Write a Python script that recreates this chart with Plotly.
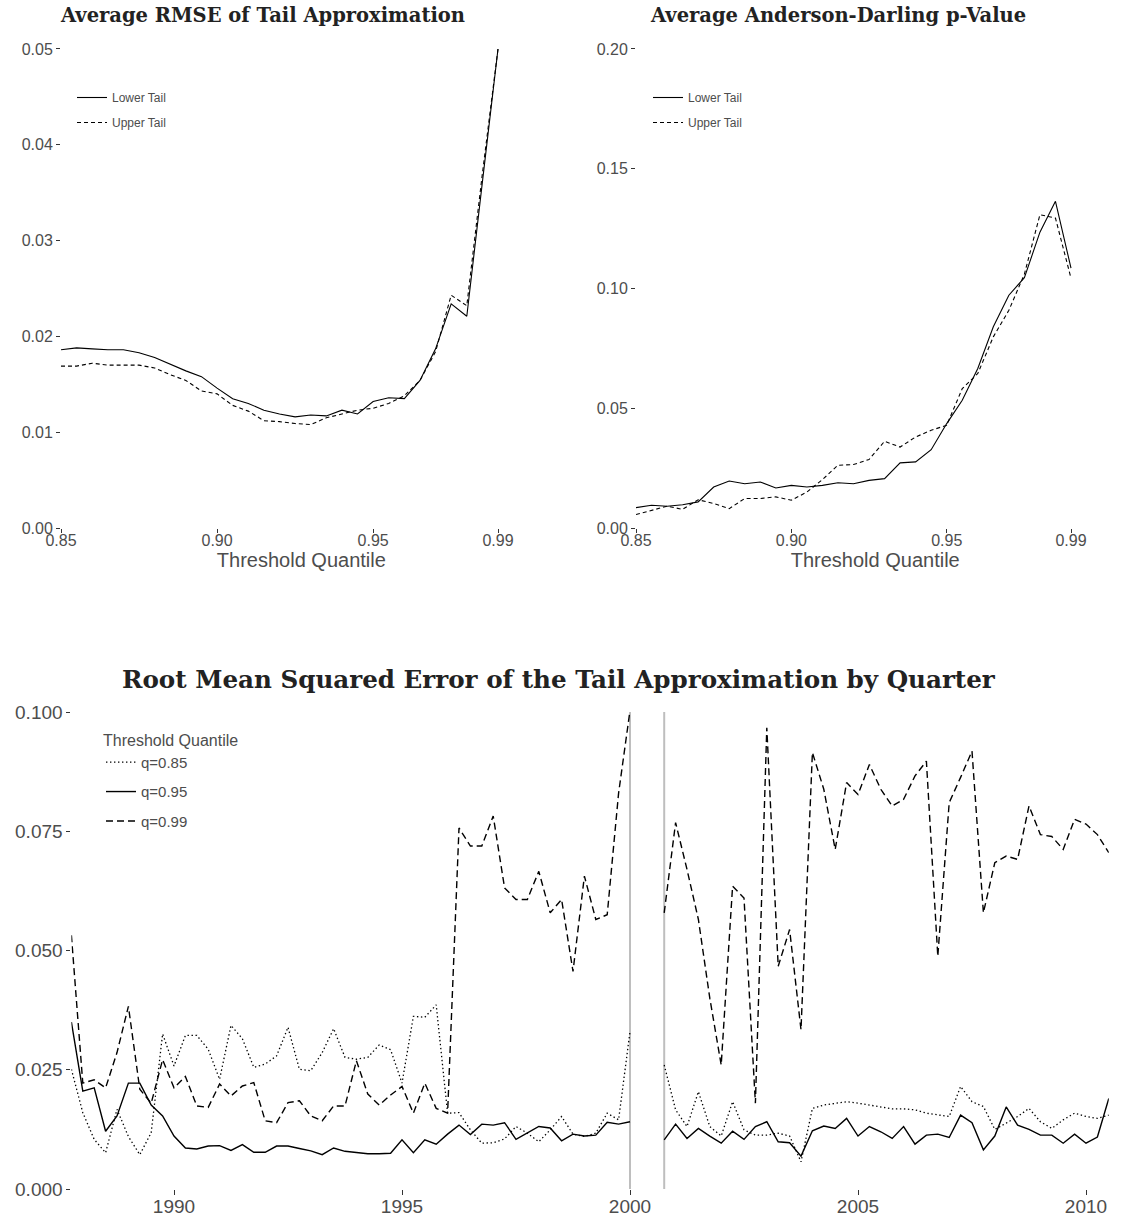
import plotly.graph_objects as go

# ---- Average tail diagnostics by threshold quantile ----
thresholds = [0.850, 0.855, 0.860, 0.865, 0.870, 0.875, 0.880, 0.885, 0.890, 0.895,
              0.900, 0.905, 0.910, 0.915, 0.920, 0.925, 0.930, 0.935, 0.940, 0.945,
              0.950, 0.955, 0.960, 0.965, 0.970, 0.975, 0.980, 0.985, 0.990]

rmse_lower = [0.0186, 0.0188, 0.0187, 0.0186, 0.0186, 0.0183, 0.0178, 0.0171, 0.0164, 0.0158,
              0.0146, 0.0135, 0.0130, 0.0123, 0.0119, 0.0116, 0.0118, 0.0117, 0.0123, 0.0119,
              0.0132, 0.0136, 0.0135, 0.0154, 0.0187, 0.0234, 0.0221, 0.0361, 0.0500]
rmse_upper = [0.0169, 0.0169, 0.0172, 0.0170, 0.0170, 0.0170, 0.0167, 0.0160, 0.0154, 0.0143,
              0.0140, 0.0128, 0.0122, 0.0112, 0.0111, 0.0109, 0.0108, 0.0115, 0.0119, 0.0123,
              0.0125, 0.0130, 0.0138, 0.0154, 0.0184, 0.0243, 0.0232, 0.0370, 0.0500]

ad_lower = [0.0085, 0.0095, 0.0091, 0.0097, 0.0109, 0.0171, 0.0196, 0.0185, 0.0192, 0.0167,
            0.0178, 0.0171, 0.0178, 0.0189, 0.0185, 0.0199, 0.0206, 0.0272, 0.0276, 0.0327,
            0.0436, 0.0533, 0.0666, 0.0840, 0.0972, 0.1045, 0.1235, 0.1364, 0.1085]
ad_upper = [0.0056, 0.0074, 0.0091, 0.0078, 0.0118, 0.0102, 0.0081, 0.0123, 0.0123, 0.0130,
            0.0116, 0.0150, 0.0202, 0.0262, 0.0265, 0.0286, 0.0362, 0.0338, 0.0380, 0.0408,
            0.0429, 0.0582, 0.0645, 0.0798, 0.0909, 0.1060, 0.1308, 0.1294, 0.1043]

threshold_ticks = [0.85, 0.90, 0.95, 0.99]

# ---- Quarterly RMSE (decimal year of each quarter; 2000.25-2000.5 missing) ----
quarters = [1987.75,
            1988.00, 1988.25, 1988.50, 1988.75, 1989.00, 1989.25, 1989.50, 1989.75,
            1990.00, 1990.25, 1990.50, 1990.75, 1991.00, 1991.25, 1991.50, 1991.75,
            1992.00, 1992.25, 1992.50, 1992.75, 1993.00, 1993.25, 1993.50, 1993.75,
            1994.00, 1994.25, 1994.50, 1994.75, 1995.00, 1995.25, 1995.50, 1995.75,
            1996.00, 1996.25, 1996.50, 1996.75, 1997.00, 1997.25, 1997.50, 1997.75,
            1998.00, 1998.25, 1998.50, 1998.75, 1999.00, 1999.25, 1999.50, 1999.75,
            2000.00, 2000.25, 2000.50, 2000.75,
            2001.00, 2001.25, 2001.50, 2001.75, 2002.00, 2002.25, 2002.50, 2002.75,
            2003.00, 2003.25, 2003.50, 2003.75, 2004.00, 2004.25, 2004.50, 2004.75,
            2005.00, 2005.25, 2005.50, 2005.75, 2006.00, 2006.25, 2006.50, 2006.75,
            2007.00, 2007.25, 2007.50, 2007.75, 2008.00, 2008.25, 2008.50, 2008.75,
            2009.00, 2009.25, 2009.50, 2009.75, 2010.00, 2010.25, 2010.50]

q85 = [0.0251, 0.0160, 0.0104, 0.0076, 0.0167, 0.0110, 0.0072, 0.0118, 0.0325, 0.0258,
       0.0322, 0.0322, 0.0293, 0.0230, 0.0343, 0.0315, 0.0255, 0.0262, 0.0279, 0.0339,
       0.0251, 0.0248, 0.0286, 0.0336, 0.0276, 0.0272, 0.0276, 0.0302, 0.0292, 0.0222,
       0.0362, 0.0360, 0.0386, 0.0159, 0.0160, 0.0124, 0.0096, 0.0097, 0.0105, 0.0131,
       0.0117, 0.0099, 0.0124, 0.0152, 0.0115, 0.0110, 0.0117, 0.0159, 0.0145, 0.0330,
       None, None,
       0.0260, 0.0166, 0.0131, 0.0204, 0.0131, 0.0111, 0.0183, 0.0124, 0.0113, 0.0113,
       0.0117, 0.0111, 0.0057, 0.0169, 0.0176, 0.0180, 0.0183, 0.0180, 0.0176, 0.0172,
       0.0168, 0.0168, 0.0166, 0.0159, 0.0155, 0.0152, 0.0215, 0.0183, 0.0173, 0.0125,
       0.0138, 0.0152, 0.0169, 0.0141, 0.0127, 0.0145, 0.0159, 0.0152, 0.0148, 0.0155]

q95 = [0.0350, 0.0205, 0.0212, 0.0121, 0.0153, 0.0222, 0.0222, 0.0176, 0.0153, 0.0111,
       0.0086, 0.0084, 0.0090, 0.0091, 0.0081, 0.0093, 0.0077, 0.0077, 0.0090, 0.0090,
       0.0085, 0.0080, 0.0072, 0.0086, 0.0079, 0.0077, 0.0074, 0.0074, 0.0075, 0.0103,
       0.0076, 0.0103, 0.0094, 0.0115, 0.0134, 0.0114, 0.0136, 0.0134, 0.0139, 0.0104,
       0.0118, 0.0131, 0.0128, 0.0101, 0.0115, 0.0111, 0.0113, 0.0140, 0.0136, 0.0141,
       None, None,
       0.0103, 0.0136, 0.0106, 0.0127, 0.0111, 0.0096, 0.0121, 0.0104, 0.0131, 0.0141,
       0.0099, 0.0097, 0.0069, 0.0122, 0.0132, 0.0127, 0.0148, 0.0111, 0.0131, 0.0120,
       0.0106, 0.0131, 0.0094, 0.0113, 0.0115, 0.0108, 0.0155, 0.0139, 0.0082, 0.0111,
       0.0172, 0.0134, 0.0125, 0.0113, 0.0113, 0.0096, 0.0115, 0.0096, 0.0109, 0.0190]

q99 = [0.0532, 0.0222, 0.0229, 0.0212, 0.0286, 0.0383, 0.0209, 0.0180, 0.0271, 0.0212,
       0.0236, 0.0174, 0.0171, 0.0220, 0.0195, 0.0216, 0.0223, 0.0143, 0.0139, 0.0181,
       0.0185, 0.0153, 0.0143, 0.0174, 0.0174, 0.0269, 0.0199, 0.0176, 0.0197, 0.0215,
       0.0159, 0.0222, 0.0169, 0.0159, 0.0757, 0.0719, 0.0719, 0.0782, 0.0631, 0.0607,
       0.0607, 0.0666, 0.0579, 0.0607, 0.0456, 0.0656, 0.0565, 0.0575, 0.0830, 0.1003,
       None, None,
       0.0579, 0.0768, 0.0670, 0.0565, 0.0400, 0.0260, 0.0635, 0.0610, 0.0180, 0.0967,
       0.0467, 0.0544, 0.0334, 0.0915, 0.0838, 0.0712, 0.0852, 0.0827, 0.0890, 0.0838,
       0.0803, 0.0817, 0.0866, 0.0897, 0.0488, 0.0810, 0.0863, 0.0918, 0.0579, 0.0684,
       0.0698, 0.0691, 0.0803, 0.0743, 0.0739, 0.0712, 0.0775, 0.0765, 0.0743, 0.0705]

year_ticks = [1990, 1995, 2000, 2005, 2010]
gap_marks = [2000.00, 2000.75]

W, H = 1129, 1218
SANS = "Liberation Sans"
SERIF = "DejaVu Serif"
GREY = "#4d4d4d"


def px(x):
    return x / W


def py(y):
    return (H - y) / H


fig = go.Figure()

top_line = dict(color="black", width=1.1)
top_dash = dict(color="black", width=1.1, dash="4px,3px")

fig.add_trace(go.Scatter(x=thresholds, y=rmse_lower, mode="lines", name="Lower Tail",
                         line=top_line, xaxis="x", yaxis="y", legend="legend",
                         legendgroup="l1"))
fig.add_trace(go.Scatter(x=thresholds, y=rmse_upper, mode="lines", name="Upper Tail",
                         line=top_dash, xaxis="x", yaxis="y", legend="legend",
                         legendgroup="u1"))
fig.add_trace(go.Scatter(x=thresholds, y=ad_lower, mode="lines", name="Lower Tail",
                         line=top_line, xaxis="x2", yaxis="y2", legend="legend2",
                         legendgroup="l2"))
fig.add_trace(go.Scatter(x=thresholds, y=ad_upper, mode="lines", name="Upper Tail",
                         line=top_dash, xaxis="x2", yaxis="y2", legend="legend2",
                         legendgroup="u2"))

fig.add_trace(go.Scatter(x=quarters, y=q85, mode="lines", name="q=0.85",
                         line=dict(color="black", width=1.3, dash="1.4px,2.6px"),
                         xaxis="x3", yaxis="y3", legend="legend3", legendgroup="a"))
fig.add_trace(go.Scatter(x=quarters, y=q95, mode="lines", name="q=0.95",
                         line=dict(color="black", width=1.4),
                         xaxis="x3", yaxis="y3", legend="legend3", legendgroup="b"))
fig.add_trace(go.Scatter(x=quarters, y=q99, mode="lines", name="q=0.99",
                         line=dict(color="black", width=1.4, dash="7px,4px"),
                         xaxis="x3", yaxis="y3", legend="legend3", legendgroup="c"))

for xv in gap_marks:
    fig.add_shape(type="line", xref="x3", yref="y3 domain", x0=xv, x1=xv, y0=0, y1=1,
                  line=dict(color="#bebebe", width=2), layer="below")

axis_common = dict(showgrid=False, zeroline=False, showline=False, ticks="outside",
                   ticklen=4, tickwidth=1, tickcolor="#333333", automargin=False)
top_tickfont = dict(family=SANS, size=16, color=GREY)
bot_tickfont = dict(family=SANS, size=19, color=GREY)
xtitle = dict(text="Threshold Quantile", font=dict(family=SANS, size=20, color=GREY),
              standoff=0)

top_dom_y = [py(528), py(48)]
# the threshold panels run a little past the last tick, as in the original layout
top_x_range = [0.85, 1.004]

fig.update_layout(
    template="none",
    width=W, height=H, margin=dict(l=0, r=0, t=0, b=0, pad=0, autoexpand=False),
    paper_bgcolor="white", plot_bgcolor="white",
    xaxis=dict(domain=[px(61), px(541.7)], range=top_x_range, tickvals=threshold_ticks,
               tickformat=".2f", tickfont=top_tickfont, title=xtitle, anchor="y",
               ticklabelstandoff=-6, **axis_common),
    yaxis=dict(domain=top_dom_y, range=[0, 0.0501], tickvals=[0, 0.01, 0.02, 0.03, 0.04, 0.05],
               tickformat=".2f", tickfont=top_tickfont, anchor="x", **axis_common),
    xaxis2=dict(domain=[px(636), px(1114.5)], range=top_x_range, tickvals=threshold_ticks,
                tickformat=".2f", tickfont=top_tickfont, title=xtitle, anchor="y2",
                ticklabelstandoff=-6, **axis_common),
    yaxis2=dict(domain=top_dom_y, range=[0, 0.2004], tickvals=[0, 0.05, 0.10, 0.15, 0.20],
                tickformat=".2f", tickfont=top_tickfont, anchor="x2", **axis_common),
    xaxis3=dict(domain=[px(71.4), px(1108.8)], range=[1987.75, 2010.5], tickvals=year_ticks,
                tickformat="d", tickfont=bot_tickfont, anchor="y3", ticklen=5,
                ticklabelstandoff=-5,
                **{k: v for k, v in axis_common.items() if k != "ticklen"}),
    yaxis3=dict(domain=[py(1189), py(712)], range=[0, 0.1], tickvals=[0, 0.025, 0.05, 0.075, 0.1],
                tickformat=".3f", tickfont=bot_tickfont, anchor="x3", **axis_common),
    legend=dict(x=px(72), y=py(83), xanchor="left", yanchor="top",
                font=dict(family=SANS, size=12, color=GREY), bgcolor="rgba(0,0,0,0)",
                borderwidth=0, tracegroupgap=6, itemwidth=30),
    legend2=dict(x=px(648), y=py(83), xanchor="left", yanchor="top",
                 font=dict(family=SANS, size=12, color=GREY), bgcolor="rgba(0,0,0,0)",
                 borderwidth=0, tracegroupgap=6, itemwidth=30),
    legend3=dict(x=px(101), y=py(725), xanchor="left", yanchor="top",
                 font=dict(family=SANS, size=15, color=GREY), bgcolor="rgba(0,0,0,0)",
                 borderwidth=0,
                 title=dict(text="Threshold Quantile", font=dict(family=SANS, size=16, color=GREY)),
                 tracegroupgap=7, itemwidth=30),
    showlegend=True,
)

title_font_top = dict(family=SERIF, size=19.5, color="#222222", weight="bold")
fig.add_annotation(text="Average RMSE of Tail Approximation", x=px(262), y=py(16),
                   xref="paper", yref="paper", showarrow=False, xanchor="center",
                   yanchor="middle", font=title_font_top)
fig.add_annotation(text="Average Anderson-Darling p-Value", x=px(838), y=py(16),
                   xref="paper", yref="paper", showarrow=False, xanchor="center",
                   yanchor="middle", font=title_font_top)
fig.add_annotation(text="Root Mean Squared Error of the Tail Approximation by Quarter",
                   x=px(559), y=py(679), xref="paper", yref="paper", showarrow=False,
                   xanchor="center", yanchor="middle",
                   font=dict(family=SERIF, size=24.6, color="#222222", weight="bold"))

fig.write_html("out.html")
